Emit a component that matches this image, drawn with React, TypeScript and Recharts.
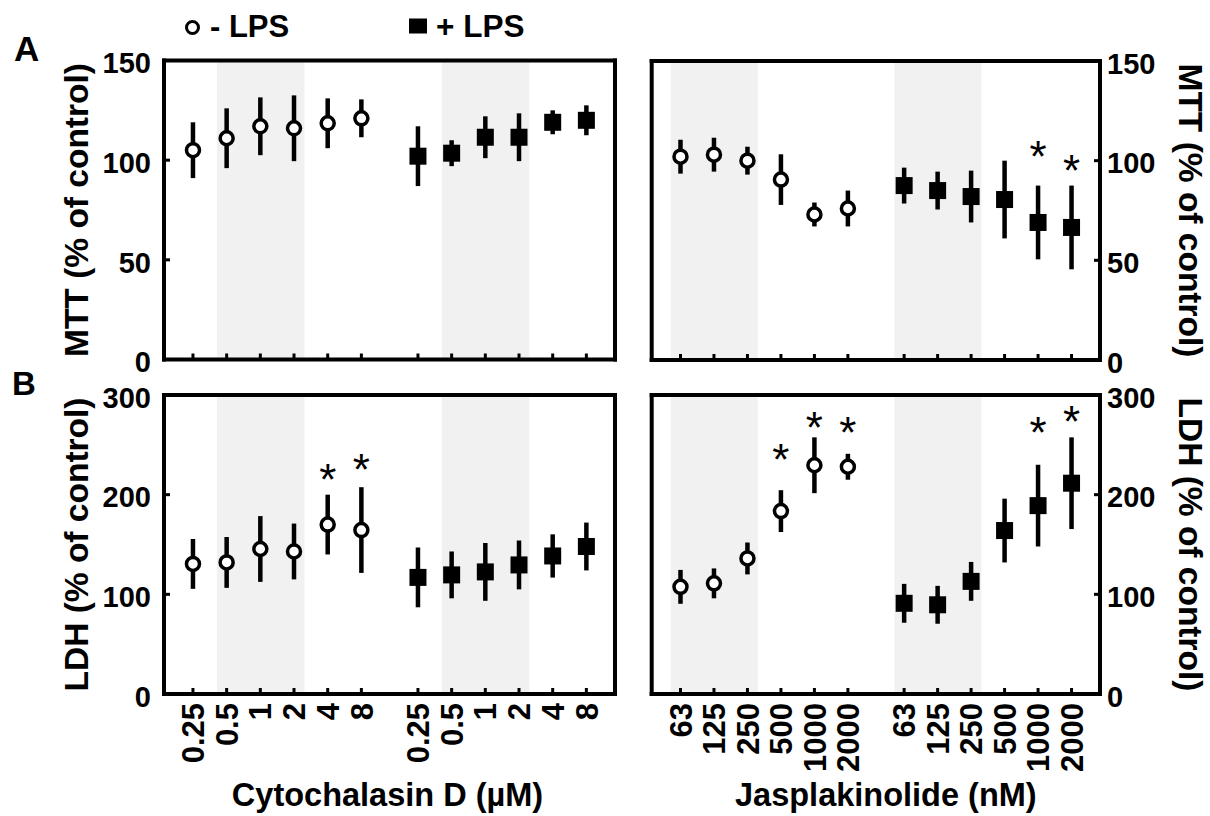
import { ScatterChart, Scatter, XAxis, YAxis, ErrorBar, ReferenceArea, Label } from "recharts"

const FONT = '"Liberation Sans", Arial, Helvetica, sans-serif'
const W = 1210
const H = 816

// dose labels (same set repeated for -LPS and +LPS groups)
const cytoDoses = ["0.25", "0.5", "1", "2", "4", "8"]
const jaspDoses = ["63", "125", "250", "500", "1000", "2000"]

// A: MTT (% of control)
const mttCytoMinus = [105, 111, 117, 116, 118.5, 121]
const mttCytoMinusErr = [14, 15, 14.5, 16.5, 12.5, 9.5]
const mttCytoPlus = [102, 103.5, 111.5, 111.5, 119, 120]
const mttCytoPlusErr = [15, 6.5, 10.5, 12, 6, 7.5]
const mttJaspMinus = [102, 103, 100, 90.5, 73, 76]
const mttJaspMinusErr = [8.5, 8.5, 7, 12.7, 6, 9]
const mttJaspPlus = [87.5, 85, 82, 80.5, 69, 66.5]
const mttJaspPlusErr = [9, 9.5, 13, 19.5, 18.5, 21]

// B: LDH (% of control)
const ldhCytoMinus = [130.5, 132, 145.5, 143, 170, 164.5]
const ldhCytoMinusErr = [25, 25.5, 33, 28, 30, 43]
const ldhCytoPlus = [117, 119.5, 122.5, 129.5, 138.5, 148]
const ldhCytoPlusErr = [30, 23.5, 29, 24.5, 21.7, 24]
const ldhJaspMinus = [107.5, 111, 136, 183.5, 229.5, 228]
const ldhJaspMinusErr = [17, 15, 16, 21, 28, 13]
const ldhJaspPlus = [91, 89.5, 113, 164, 189, 211.5]
const ldhJaspPlusErr = [19.5, 19, 19.5, 32, 41, 46]

// significance asterisks (height of the * in axis units, null = none)
const none = [null, null, null, null, null, null]
const mttJaspPlusStars = [null, null, null, null, 107, 100]
const ldhCytoMinusStars = [null, null, null, null, 225, 235]
const ldhJaspMinusStars = [null, null, null, 245, 277, 272]
const ldhJaspPlusStars = [null, null, null, null, 272, 283]

const mttTicks = [0, 50, 100, 150]
const ldhTicks = [0, 100, 200, 300]

const GAP = 1.68
const xOf = (group: number, i: number) => i + group * (5 + GAP)
const TICK_X = [0, 1].flatMap((g) => [0, 1, 2, 3, 4, 5].map((i) => xOf(g, i)))
const DOMAIN_X: [number, number] = [-0.86, 12.53]

type Row = { x: number; y: number; err?: number }
const rows = (means: number[], errs: number[], group: number): Row[] =>
  means.map((m, i) => ({ x: xOf(group, i), y: m, err: errs[i] }))
const starRows = (groups: (number | null)[][]): Row[] =>
  groups.flatMap((s, g) =>
    s.map((v, i) => (v == null ? null : { x: xOf(g, i), y: v })).filter((r): r is Row => r != null)
  )

const frame = { stroke: "#000", strokeWidth: 4, strokeLinecap: "square" as const }
const TICK_LEN = 6

const OpenCircle = (props: any) => (
  <circle cx={props.cx} cy={props.cy} r={6.5} fill="#fff" stroke="#000" strokeWidth={3.5} />
)
const FilledSquare = (props: any) => (
  <rect x={props.cx - 8.5} y={props.cy - 8.5} width={17} height={17} fill="#000" />
)
const Star = (props: any) => (
  <text x={props.cx} y={props.cy + 25} textAnchor="middle" fontSize={44} fontFamily={FONT} fill="#000">
    *
  </text>
)

// inward tick mark; x,y is the point on the frame
const mark = (x: number, y: number, orient: string) => {
  const d = TICK_LEN
  const [x2, y2] =
    orient === "bottom" ? [x, y - d] : orient === "top" ? [x, y + d] : orient === "left" ? [x + d, y] : [x - d, y]
  return <line x1={x} y1={y} x2={x2} y2={y2} stroke="#000" strokeWidth={3} />
}

const TickMark = ({ x, y, orient }: any) => <g>{mark(x, y, orient)}</g>

const XTick = ({ x, y, payload, labels }: any) => {
  const idx = TICK_X.findIndex((t) => Math.abs(t - payload.value) < 1e-6)
  const ty = y + 9
  return (
    <g>
      {mark(x, y, "bottom")}
      {labels ? (
        <text
          x={x}
          y={ty}
          dy="0.36em"
          transform={`rotate(-90 ${x} ${ty})`}
          textAnchor="end"
          fontSize={31}
          fontWeight="bold"
          fontFamily={FONT}
          fill="#000"
        >
          {labels[idx % labels.length]}
        </text>
      ) : null}
    </g>
  )
}

const YTick = ({ x, y, payload, side }: any) => (
  <g>
    {mark(x, y, side)}
    <text
      x={side === "left" ? x - 13 : x + 7}
      y={y + 12.8}
      textAnchor={side === "left" ? "end" : "start"}
      fontSize={29}
      fontWeight="bold"
      fontFamily={FONT}
      fill="#000"
    >
      {payload.value}
    </text>
  </g>
)

type Box = { left: number; top: number; right: number; bottom: number }
type PanelProps = {
  box: Box
  side: "left" | "right"
  yMax: number
  yTicks: number[]
  minus: Row[]
  plus: Row[]
  stars: Row[]
  shadeStart: number
  yLabel: string
  xLabels?: string[]
  xTitle?: string
  xTitleShift?: number
}

function Panel(p: PanelProps) {
  const { box } = p
  const other = p.side === "left" ? "right" : "left"
  const shade = [0, 1].map((g) => [xOf(g, p.shadeStart) - 0.29, xOf(g, p.shadeStart) + 2.31])
  const midY = (box.top + box.bottom) / 2

  const yLabel = () => {
    const left = p.side === "left"
    const bx = left ? box.left - 76 : box.right + 79
    return (
      <text
        x={bx}
        y={midY}
        transform={`rotate(${left ? -90 : 90} ${bx} ${midY})`}
        textAnchor="middle"
        fontSize={33.5}
        fontWeight="bold"
        fontFamily={FONT}
        fill="#000"
      >
        {p.yLabel}
      </text>
    )
  }

  const xTitle = () => (
    <text
      x={(box.left + box.right) / 2 + (p.xTitleShift ?? 0)}
      y={806}
      textAnchor="middle"
      fontSize={32.5}
      fontWeight="bold"
      fontFamily={FONT}
      fill="#000"
    >
      {p.xTitle}
    </text>
  )

  const common = { tickSize: 0, tickMargin: 0, tickLine: false, axisLine: frame, interval: 0 as const }

  return (
    <div style={{ position: "absolute", left: 0, top: 0 }}>
      <ScatterChart
        width={W}
        height={H}
        margin={{ top: box.top - 1, bottom: H - box.bottom - 1, left: box.left - 1, right: W - box.right - 1 }}
      >
        {shade.map(([a, b], i) => (
          <ReferenceArea
            key={i}
            xAxisId="b"
            yAxisId="m"
            x1={a}
            x2={b}
            y1={0}
            y2={p.yMax}
            fill="#f1f1f1"
            fillOpacity={1}
            stroke="none"
          />
        ))}
        <XAxis
          xAxisId="b"
          type="number"
          dataKey="x"
          domain={DOMAIN_X}
          ticks={TICK_X}
          height={1}
          {...common}
          tick={<XTick labels={p.xLabels} />}
        >
          {p.xTitle ? <Label content={xTitle} /> : null}
        </XAxis>
        <XAxis
          xAxisId="t"
          orientation="top"
          type="number"
          dataKey="x"
          domain={DOMAIN_X}
          ticks={TICK_X}
          height={1}
          {...common}
          tick={<TickMark orient="top" />}
        />
        <YAxis
          yAxisId="m"
          orientation={p.side}
          type="number"
          dataKey="y"
          domain={[0, p.yMax]}
          ticks={p.yTicks}
          width={1}
          {...common}
          tick={<YTick side={p.side} />}
        >
          <Label content={yLabel} />
        </YAxis>
        <YAxis
          yAxisId="o"
          orientation={other}
          type="number"
          dataKey="y"
          domain={[0, p.yMax]}
          ticks={p.yTicks}
          width={1}
          {...common}
          tick={<TickMark orient={other} />}
        />
        <Scatter name="- LPS" data={p.minus} xAxisId="b" yAxisId="m" shape={OpenCircle} isAnimationActive={false}>
          <ErrorBar dataKey="err" direction="y" width={0} stroke="#000" strokeWidth={4.5} isAnimationActive={false} />
        </Scatter>
        <Scatter name="+ LPS" data={p.plus} xAxisId="b" yAxisId="m" shape={FilledSquare} isAnimationActive={false}>
          <ErrorBar dataKey="err" direction="y" width={0} stroke="#000" strokeWidth={4.5} isAnimationActive={false} />
        </Scatter>
        <Scatter data={p.stars} xAxisId="b" yAxisId="m" shape={Star} isAnimationActive={false} />
      </ScatterChart>
    </div>
  )
}

const boxAL: Box = { left: 164, top: 60.5, right: 615, bottom: 359.5 }
const boxAR: Box = { left: 651.7, top: 61, right: 1100, bottom: 360 }
const boxBL: Box = { left: 164, top: 395, right: 615, bottom: 694 }
const boxBR: Box = { left: 651.7, top: 395, right: 1100, bottom: 694 }

export default function App() {
  const txt = { fontFamily: FONT, fontWeight: "bold" as const, fill: "#000" }
  return (
    <div style={{ position: "absolute", left: 0, top: 0, width: W, height: H, background: "#fff", overflow: "hidden" }}>
      <Panel
        box={boxAL}
        side="left"
        yMax={150}
        yTicks={mttTicks}
        minus={rows(mttCytoMinus, mttCytoMinusErr, 0)}
        plus={rows(mttCytoPlus, mttCytoPlusErr, 1)}
        stars={starRows([none, none])}
        shadeStart={1}
        yLabel="MTT (% of control)"
      />
      <Panel
        box={boxAR}
        side="right"
        yMax={150}
        yTicks={mttTicks}
        minus={rows(mttJaspMinus, mttJaspMinusErr, 0)}
        plus={rows(mttJaspPlus, mttJaspPlusErr, 1)}
        stars={starRows([none, mttJaspPlusStars])}
        shadeStart={0}
        yLabel="MTT (% of control)"
      />
      <Panel
        box={boxBL}
        side="left"
        yMax={300}
        yTicks={ldhTicks}
        minus={rows(ldhCytoMinus, ldhCytoMinusErr, 0)}
        plus={rows(ldhCytoPlus, ldhCytoPlusErr, 1)}
        stars={starRows([ldhCytoMinusStars, none])}
        shadeStart={1}
        yLabel="LDH (% of control)"
        xLabels={cytoDoses}
        xTitle="Cytochalasin D (µM)"
        xTitleShift={-2}
      />
      <Panel
        box={boxBR}
        side="right"
        yMax={300}
        yTicks={ldhTicks}
        minus={rows(ldhJaspMinus, ldhJaspMinusErr, 0)}
        plus={rows(ldhJaspPlus, ldhJaspPlusErr, 1)}
        stars={starRows([ldhJaspMinusStars, ldhJaspPlusStars])}
        shadeStart={0}
        yLabel="LDH (% of control)"
        xLabels={jaspDoses}
        xTitle="Jasplakinolide (nM)"
        xTitleShift={10}
      />
      <svg width={W} height={H} style={{ position: "absolute", left: 0, top: 0, pointerEvents: "none" }}>
        <circle cx={192.5} cy={27.5} r={6} fill="#fff" stroke="#000" strokeWidth={3} />
        <text x={210} y={36.5} fontSize={31} {...txt}>
          - LPS
        </text>
        <rect x={409} y={18.5} width={18} height={15} fill="#000" />
        <text x={436} y={36.5} fontSize={31.5} {...txt}>
          + LPS
        </text>
        <text x={14} y={61} fontSize={35} {...txt}>
          A
        </text>
        <text x={12} y={395} fontSize={33} {...txt}>
          B
        </text>
      </svg>
    </div>
  )
}
